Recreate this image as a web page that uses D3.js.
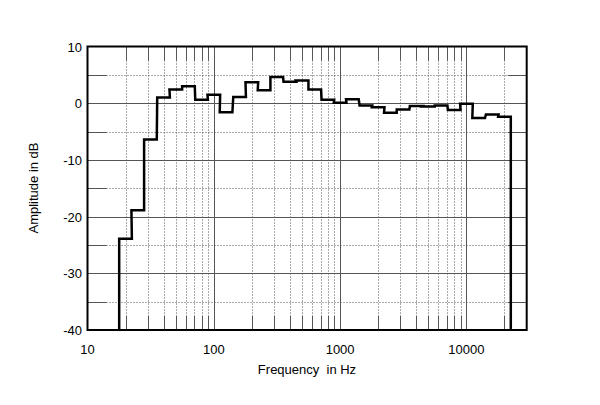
<!DOCTYPE html>
<html>
<head>
<meta charset="utf-8">
<script src="https://cdn.jsdelivr.net/npm/d3@7"></script>
<style>
  body { margin: 0; background: #fff; }
  text { font-family: "Liberation Sans", Arial, sans-serif; font-size: 13px; fill: #000; }
</style>
</head>
<body>
<div id="chart"></div>
<script>
'use strict';

// 1/3-octave band centres (Hz) and levels (dB)
var bands = [20, 25, 31.5, 40, 50, 63, 80, 100, 125, 160, 200, 250, 315, 400, 500, 630, 800,
             1000, 1250, 1600, 2000, 2500, 3150, 4000, 5000, 6300, 8000, 10000, 12500, 16000, 20000];
var levels = [-23.9, -18.9, -6.4, 1.0, 2.4, 3.0, 0.6, 1.5, -1.6, 1.1, 3.7, 2.3, 4.6, 3.8, 4.0, 2.4, 0.6,
              0.1, 0.7, -0.4, -0.7, -1.7, -1.1, -0.5, -0.6, -0.4, -1.2, -0.1, -2.6, -2.0, -2.4];

var xTicks = [10, 100, 1000, 10000];
var yTicks = [10, 0, -10, -20, -30, -40];

// constants
var width = 600,
    height = 405,
    plotL = 87.5, plotR = 526.7,
    plotT = 46.5, plotB = 330;

var svg = d3.select('#chart')
  .append('svg')
  .attr('width', width)
  .attr('height', height);

var x = d3.scaleLog().domain([10, 30000]).range([plotL, plotR]);
var y = d3.scaleLinear().domain([-40, 10]).range([plotB, plotT]);

var grid = svg.append('g').attr('stroke', '#555').attr('stroke-width', 1).attr('fill', 'none');

// minor vertical lines: 2..9 of each decade, plus 20k
var minorX = [];
[10, 100, 1000, 10000].forEach(function (d) {
  for (var k = 2; k <= 9; k++) {
    var f = d * k;
    if (f < 30000) minorX.push(f);
  }
});
var stub = 14;
minorX.forEach(function (f) {
  var xx = Math.round(x(f)) + 0.5;
  grid.append('line').attr('x1', xx).attr('x2', xx).attr('y1', plotT).attr('y2', plotT + stub);
  grid.append('line').attr('x1', xx).attr('x2', xx).attr('y1', plotB - stub).attr('y2', plotB);
  grid.append('line').attr('x1', xx).attr('x2', xx).attr('y1', plotT + stub).attr('y2', plotB - stub)
    .attr('stroke-dasharray', '1,2');
});
// decade lines
[100, 1000, 10000].forEach(function (f) {
  var xx = Math.round(x(f)) + 0.5;
  grid.append('line').attr('x1', xx).attr('x2', xx).attr('y1', plotT).attr('y2', plotB);
});

// horizontal lines
var hstub = 19;
d3.range(-35, 10, 5).forEach(function (v) {
  var yy = Math.round(y(v)) + 0.5;
  if (v % 10 === 0) {
    grid.append('line').attr('x1', plotL).attr('x2', plotR).attr('y1', yy).attr('y2', yy);
  } else {
    grid.append('line').attr('x1', plotL).attr('x2', plotL + hstub).attr('y1', yy).attr('y2', yy);
    grid.append('line').attr('x1', plotR - hstub).attr('x2', plotR).attr('y1', yy).attr('y2', yy);
    grid.append('line').attr('x1', plotL + hstub).attr('x2', plotR - hstub).attr('y1', yy).attr('y2', yy)
      .attr('stroke-dasharray', '1,2');
  }
});

// step response
var edge = Math.pow(2, 1 / 6);
var pts = [[bands[0] / edge, -40]];
bands.forEach(function (f, i) {
  pts.push([f / edge, levels[i]]);
  pts.push([f * edge, levels[i]]);
});
pts.push([bands[bands.length - 1] * edge, -40]);

svg.append('path')
  .datum(pts)
  .attr('fill', 'none')
  .attr('stroke', '#000')
  .attr('stroke-width', 2.5)
  .attr('stroke-linejoin', 'miter')
  .attr('d', d3.line()
    .x(function (d) { return x(d[0]); })
    .y(function (d) { return y(d[1]); }));

// frame
svg.append('rect')
  .attr('x', plotL).attr('y', plotT)
  .attr('width', plotR - plotL).attr('height', plotB - plotT)
  .attr('fill', 'none').attr('stroke', '#000').attr('stroke-width', 2);

// tick labels
svg.selectAll('text.xt')
  .data(xTicks)
  .enter().append('text')
  .attr('class', 'xt')
  .attr('x', function (d) { return x(d); })
  .attr('y', 354)
  .attr('text-anchor', 'middle')
  .text(function (d) { return d; });

svg.selectAll('text.yt')
  .data(yTicks)
  .enter().append('text')
  .attr('class', 'yt')
  .attr('x', 82)
  .attr('y', function (d) { return y(d) + 5; })
  .attr('text-anchor', 'end')
  .text(function (d) { return d; });

// axis titles
svg.append('text')
  .attr('x', 307).attr('y', 374)
  .attr('text-anchor', 'middle')
  .style('white-space', 'pre')
  .text('Frequency  in Hz');

svg.append('text')
  .attr('transform', 'translate(38,188) rotate(-90)')
  .attr('text-anchor', 'middle')
  .text('Amplitude in dB');
</script>
</body>
</html>
